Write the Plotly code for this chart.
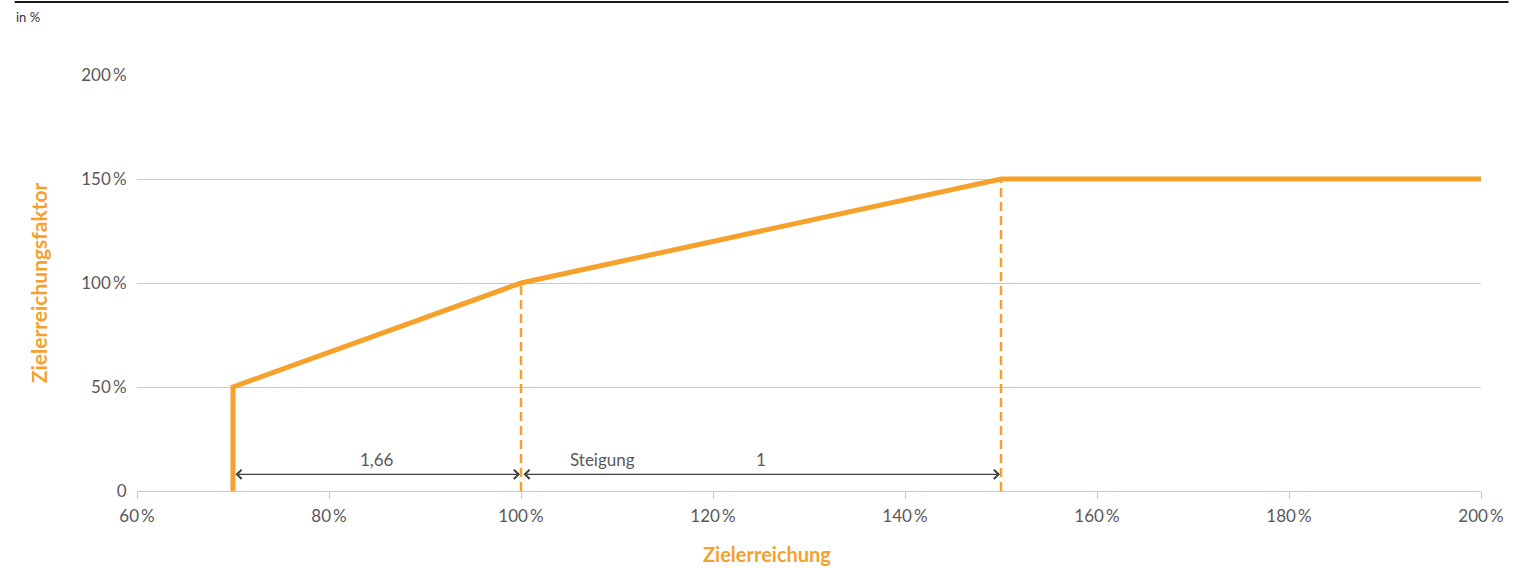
import plotly.graph_objects as go

# Zielerreichungskurve: Zielerreichung (x) -> Zielerreichungsfaktor (y), in %
curve_x = [70, 70, 100, 150, 200]
curve_y = [0, 50, 100, 150, 150]

# Knickpunkte mit gestrichelten Hilfslinien
kink_x = [100, 150]
kink_y = [100, 150]

# Steigungsbereiche (von, bis) und Beschriftungen
slope_ranges = [(70, 100), (100, 150)]
slope_arrow_y = 8
slope_labels = [(85, "1,66"), (108.5, "Steigung"), (125, "1")]
slope_label_y = 15

x_ticks = [60, 80, 100, 120, 140, 160, 180, 200]
y_ticks = [0, 50, 100, 150, 200]

ORANGE = "#F5A12B"
GRID = "#C9C9C9"
TEXT = "#595959"
FONT = "Lato"

fig = go.Figure()

for kx, ky in zip(kink_x, kink_y):
    fig.add_trace(go.Scatter(
        x=[kx, kx], y=[0, ky], mode="lines",
        line=dict(color=ORANGE, width=2.5, dash="9px,5px"),
        hoverinfo="skip", showlegend=False,
    ))

fig.add_trace(go.Scatter(
    x=curve_x, y=curve_y, mode="lines",
    line=dict(color=ORANGE, width=5),
    showlegend=False,
))

annotations = []
for x0, x1 in slope_ranges:
    annotations.append(dict(
        x=x1, y=slope_arrow_y, ax=x0, ay=slope_arrow_y,
        xref="x", yref="y", axref="x", ayref="y",
        text="", showarrow=True,
        arrowhead=4, startarrowhead=4, arrowside="end+start",
        arrowsize=1.4, startarrowsize=1.4, arrowwidth=1.3,
        arrowcolor="#404040", standoff=1, startstandoff=1,
    ))
for lx, lt in slope_labels:
    annotations.append(dict(
        x=lx, y=slope_label_y, xref="x", yref="y", text=lt,
        showarrow=False, font=dict(family=FONT, size=17, color=TEXT),
    ))

annotations.append(dict(
    x=-0.0915, y=1.139, xref="paper", yref="paper", text="in %",
    showarrow=False, xanchor="left", yanchor="middle",
    font=dict(family=FONT, size=13, color="#333333"),
))
annotations.append(dict(
    x=0.469, y=-0.1515, xref="paper", yref="paper", text="<b>Zielerreichung</b>",
    showarrow=False, xanchor="center", yanchor="middle",
    font=dict(family=FONT, size=20, color=ORANGE),
))
annotations.append(dict(
    x=-0.0735, y=0.5, xref="paper", yref="paper", text="<b>Zielerreichungsfaktor</b>",
    showarrow=False, textangle=-90, xanchor="center", yanchor="middle",
    font=dict(family=FONT, size=21, color=ORANGE),
))

fig.update_layout(
    width=1530, height=568,
    margin=dict(l=137, r=49, t=75, b=77),
    paper_bgcolor="white", plot_bgcolor="white",
    annotations=annotations,
    shapes=[dict(
        type="line", xref="paper", yref="paper",
        x0=-0.091, x1=1.0205, y0=1.1755, y1=1.1755,
        line=dict(color="#1a1a1a", width=2),
    )],
    xaxis=dict(
        range=[60, 200], tickvals=x_ticks,
        ticktext=[f"{v}\u2009%" for v in x_ticks],
        showgrid=False, zeroline=False,
        showline=True, linecolor=GRID, linewidth=1,
        ticks="outside", ticklen=7, tickcolor=GRID, tickwidth=1,
        ticklabelstandoff=3,
        tickfont=dict(family=FONT, size=17, color=TEXT),
    ),
    yaxis=dict(
        range=[0, 200], tickvals=y_ticks,
        ticktext=["0" if v == 0 else f"{v}\u2009%" for v in y_ticks],
        showgrid=True, gridcolor=GRID, gridwidth=1, zeroline=False,
        showline=False,
        ticks="outside", ticklen=6, tickcolor="rgba(0,0,0,0)",
        tickfont=dict(family=FONT, size=17, color=TEXT),
    ),
)

fig.write_html("out.html")
